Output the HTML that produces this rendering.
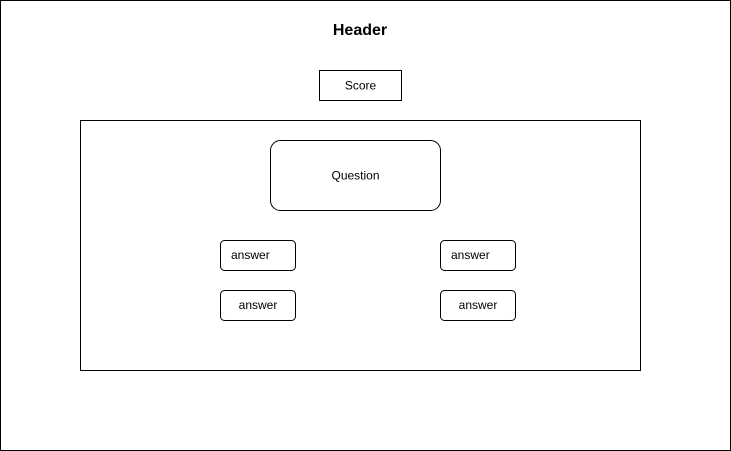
<!DOCTYPE html>
<html><head><meta charset="utf-8"><style>
html,body{margin:0;padding:0;background:#fff;}
svg{display:block;}
text{font-family:"Liberation Sans",Arial,sans-serif;font-size:12px;fill:#000;}
</style></head><body>
<svg width="731" height="451" viewBox="0 0 731 451" xmlns="http://www.w3.org/2000/svg">
<rect x="0.5" y="0.5" width="730" height="450" fill="#fff" stroke="#000"/>
<text x="360" y="35" text-anchor="middle" style="font-size:16px;font-weight:bold">Header</text>
<rect x="319.5" y="70.5" width="82" height="30" fill="#fff" stroke="#000"/>
<text x="360.5" y="89.5" text-anchor="middle">Score</text>
<rect x="80.5" y="120.5" width="560" height="250" fill="#fff" stroke="#000"/>
<rect x="270.5" y="140.5" width="170" height="70" rx="10" fill="#fff" stroke="#000"/>
<text x="355.5" y="179.5" text-anchor="middle">Question</text>
<rect x="220.5" y="240.5" width="75" height="30" rx="4" fill="#fff" stroke="#000"/>
<text x="231" y="259">answer</text>
<rect x="440.5" y="240.5" width="75" height="30" rx="4" fill="#fff" stroke="#000"/>
<text x="451" y="259">answer</text>
<rect x="220.5" y="290.5" width="75" height="30" rx="4" fill="#fff" stroke="#000"/>
<text x="258" y="309" text-anchor="middle">answer</text>
<rect x="440.5" y="290.5" width="75" height="30" rx="4" fill="#fff" stroke="#000"/>
<text x="478" y="309" text-anchor="middle">answer</text>
</svg>
</body></html>
